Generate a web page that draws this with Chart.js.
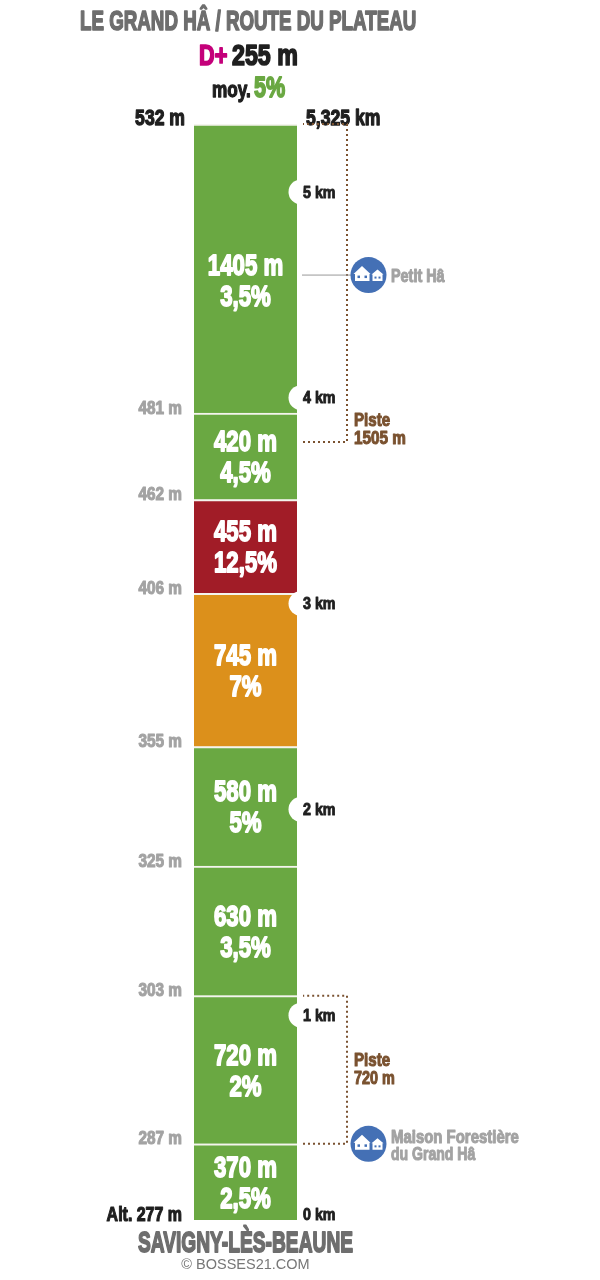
<!DOCTYPE html>
<html>
<head>
<meta charset="utf-8">
<title>Le Grand Hâ / Route du Plateau</title>
<script src="https://cdn.jsdelivr.net/npm/chart.js@4"></script>
<style>
    body { margin: 0; background: #fff; }
    canvas { display: block; }
</style>
</head>
<body>
<canvas id="climbChart" width="600" height="1280"></canvas>
<script>
// --- Data (bottom of the climb first) ---
const segmentLengths = [370, 720, 630, 580, 745, 455, 420, 1405];
const segmentGrades = ['2,5%', '2%', '3,5%', '5%', '7%', '12,5%', '4,5%', '3,5%'];
const segmentColors = ['#6aa842', '#6aa842', '#6aa842', '#6aa842', '#dc901b', '#a11c27', '#6aa842', '#6aa842'];
const altitudes = [287, 303, 325, 355, 406, 462, 481];
const kmMarks = [1000, 2000, 3000, 4000, 5000];
const totalLength = 5325;
const tracks = [[370, 1090, 'Piste', '720 m'], [3780, 5325, 'Piste', '1505 m']];
const places = [[370, 'Maison Forestière', 'du Grand Hâ'], [4591, 'Petit Hâ', '']];
const topLabelDistance = 4567; // the 1405 m label sits above the middle of its block

const DISPLAY_FONT = '"Liberation Sans", sans-serif';
const BLACK = '#1f1f1f', GREY = '#a3a3a3', TITLE_GREY = '#6e6e6e', BROWN = '#7a5230', BLUE = '#4470b5';

// Impact is not installed: squeeze the bold sans sideways and stroke it to look heavier
function txt(ctx, str, x, y, size, color, align, squeeze) {
    const sx = squeeze || 0.8;
    ctx.save();
    ctx.translate(x, y + 2);
    ctx.scale(sx, 1);
    ctx.font = 'bold ' + size + 'px ' + DISPLAY_FONT;
    ctx.textAlign = align || 'left';
    ctx.textBaseline = 'middle';
    ctx.fillStyle = color;
    ctx.strokeStyle = color;
    ctx.lineWidth = size / 17;
    ctx.lineJoin = 'round';
    ctx.fillText(str, 0, 0);
    ctx.strokeText(str, 0, 0);
    ctx.restore();
}

function drawHouse(ctx, cx, cy) {
    ctx.beginPath();
    ctx.arc(cx, cy, 18, 0, Math.PI * 2);
    ctx.fillStyle = BLUE;
    ctx.fill();
    ctx.fillStyle = '#fff';
    ctx.beginPath();
    ctx.moveTo(cx - 15, cy - 1);
    ctx.lineTo(cx - 6.5, cy - 9);
    ctx.lineTo(cx + 2, cy - 1);
    ctx.lineTo(cx + 1, cy - 1);
    ctx.lineTo(cx + 1, cy + 6);
    ctx.lineTo(cx - 13.5, cy + 6);
    ctx.lineTo(cx - 13.5, cy - 1);
    ctx.closePath();
    ctx.moveTo(cx + 3, cy - 0.5);
    ctx.lineTo(cx + 9, cy - 5.5);
    ctx.lineTo(cx + 15, cy - 0.5);
    ctx.lineTo(cx + 14, cy - 0.5);
    ctx.lineTo(cx + 14, cy + 6);
    ctx.lineTo(cx + 4, cy + 6);
    ctx.lineTo(cx + 4, cy - 0.5);
    ctx.closePath();
    ctx.fill();
    ctx.fillStyle = BLUE;
    ctx.fillRect(cx - 11, cy + 0.5, 2.5, 2.5);
    ctx.fillRect(cx - 4, cy + 0.5, 2.5, 2.5);
    ctx.fillRect(cx + 6, cy + 1.5, 2, 2);
    ctx.fillRect(cx + 10, cy + 1.5, 2, 2);
}

// --- Everything the bars don't draw themselves ---
const annotations = {
    id: 'annotations',
    afterDatasetsDraw(chart) {
        const ctx = chart.ctx;
        const y = chart.scales.y;
        const bar = chart.getDatasetMeta(0).data[0];
        const left = bar.x - bar.width / 2;
        const right = bar.x + bar.width / 2;
        const cx = bar.x;
        const bracketX = right + 50;

        ctx.save();

        // km notches cut into the right side of the bar
        kmMarks.forEach(m => {
            const py = y.getPixelForValue(m) + 1;
            ctx.beginPath();
            ctx.arc(right + 4, py, 12.5, 0, Math.PI * 2);
            ctx.fillStyle = '#fff';
            ctx.fill();
            txt(ctx, (m / 1000) + ' km', right + 6, py - 1, 17, BLACK, 'left', 0.84);
        });
        txt(ctx, '0 km', right + 6, y.getPixelForValue(0) - 7, 17, BLACK, 'left', 0.84);

        // segment labels
        let start = 0;
        segmentLengths.forEach((len, i) => {
            let mid = start + len / 2;
            if (i === segmentLengths.length - 1) mid = topLabelDistance;
            const py = y.getPixelForValue(mid);
            txt(ctx, len + ' m', cx, py - 15.5, 30, '#fff', 'center', 0.74);
            txt(ctx, segmentGrades[i], cx, py + 15.5, 30, '#fff', 'center', 0.74);
            start += len;
        });

        // altitudes at the segment boundaries
        start = 0;
        altitudes.forEach((alt, i) => {
            start += segmentLengths[i];
            txt(ctx, alt + ' m', left - 12, y.getPixelForValue(start) - 6.5, 18.5, GREY, 'right', 0.83);
        });
        txt(ctx, 'Alt. 277 m', left - 12, y.getPixelForValue(0) - 7, 21, BLACK, 'right', 0.76);
        txt(ctx, '532 m', left - 9, y.getPixelForValue(totalLength) - 7, 22, BLACK, 'right', 0.8);
        txt(ctx, '5,325 km', right + 9, y.getPixelForValue(totalLength) - 7, 22, BLACK, 'left', 0.8);

        // dotted brackets for the gravel tracks
        tracks.forEach(t => {
            const y0 = y.getPixelForValue(t[0]);
            const y1 = y.getPixelForValue(t[1]);
            ctx.beginPath();
            ctx.setLineDash([2, 3]);
            ctx.lineWidth = 2;
            ctx.strokeStyle = BROWN;
            ctx.moveTo(right + 6, y0);
            ctx.lineTo(bracketX, y0);
            ctx.lineTo(bracketX, y1);
            ctx.lineTo(right + 6, y1);
            ctx.stroke();
            ctx.setLineDash([]);
        });
        txt(ctx, tracks[0][2], bracketX + 7, 1059, 18, BROWN, 'left', 0.84);
        txt(ctx, tracks[0][3], bracketX + 7, 1077, 18, BROWN, 'left', 0.8);
        txt(ctx, tracks[1][2], bracketX + 7, 419, 18, BROWN, 'left', 0.84);
        txt(ctx, tracks[1][3], bracketX + 7, 437, 18, BROWN, 'left', 0.85);

        // places along the road
        places.forEach(p => {
            const py = y.getPixelForValue(p[0]);
            if (!p[2]) {
                ctx.beginPath();
                ctx.moveTo(right + 5, py);
                ctx.lineTo(bracketX + 6, py);
                ctx.lineWidth = 1;
                ctx.strokeStyle = '#999';
                ctx.stroke();
                txt(ctx, p[1], right + 94, py, 18, GREY, 'left', 0.8);
            } else {
                txt(ctx, p[1], right + 94, py - 8, 18, GREY, 'left', 0.83);
                txt(ctx, p[2], right + 94, py + 9, 18, GREY, 'left', 0.78);
            }
            drawHouse(ctx, right + 71.5, py);
        });

        // headings
        txt(ctx, 'LE GRAND HÂ / ROUTE DU PLATEAU', 80, 20, 28, TITLE_GREY, 'left', 0.67);
        txt(ctx, 'D+', 199, 55, 29, '#c4007a', 'left', 0.75);
        txt(ctx, '255 m', 232, 55, 29, BLACK, 'left', 0.8);
        txt(ctx, 'moy.', 212, 89, 22, BLACK, 'left', 0.78);
        txt(ctx, '5%', 254, 87, 30, '#6aa842', 'left', 0.72);
        txt(ctx, 'SAVIGNY-LÈS-BEAUNE', cx, 1242, 30, TITLE_GREY, 'center', 0.64);

        ctx.font = '14.5px "Liberation Sans", sans-serif';
        ctx.fillStyle = '#777';
        ctx.textAlign = 'center';
        ctx.textBaseline = 'middle';
        ctx.fillText('© BOSSES21.COM', cx, 1265);

        ctx.restore();
    }
};

new Chart(document.getElementById('climbChart'), {
    type: 'bar',
    data: {
        labels: ['Route'],
        datasets: segmentLengths.map((len, i) => ({
            label: len + ' m',
            data: [len],
            backgroundColor: segmentColors[i],
            borderColor: '#f4f4ee',
            borderWidth: { top: 2, right: 0, bottom: 0, left: 0 },
            borderSkipped: false,
            barThickness: 103
        }))
    },
    options: {
        responsive: false,
        animation: false,
        layout: { padding: { top: 124, bottom: 60, left: 0, right: 109 } },
        plugins: { legend: { display: false }, tooltip: { enabled: false } },
        scales: {
            x: { stacked: true, display: false },
            y: { stacked: true, display: false, min: 0, max: totalLength }
        }
    },
    plugins: [annotations]
});
</script>
</body>
</html>
